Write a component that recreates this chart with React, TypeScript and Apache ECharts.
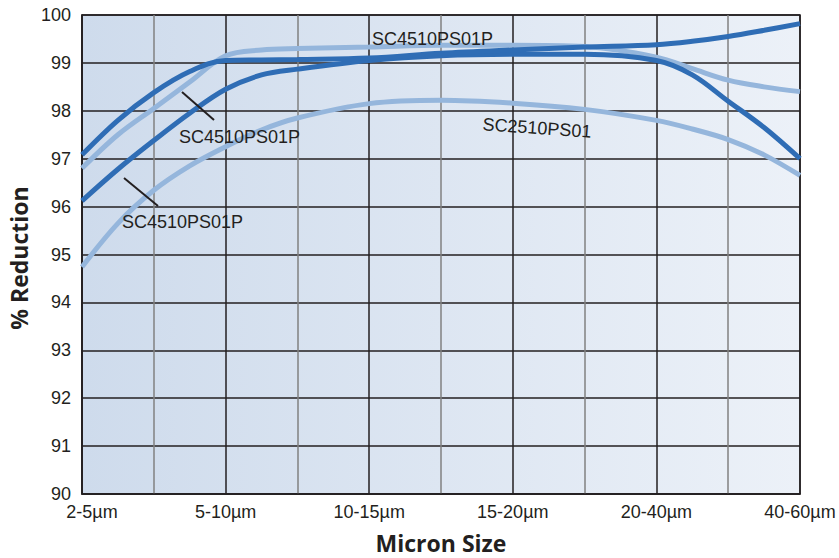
import React, { useEffect, useRef } from "react";
import * as echarts from "echarts";

const categories = ["2-5µm", "5-10µm", "10-15µm", "15-20µm", "20-40µm", "40-60µm"];
const xPositions = [0, 0.25, 0.5, 0.75, 1, 1.25, 1.5, 2, 2.5, 3, 3.5, 4, 4.25, 4.5, 4.75, 5];

const darkUpper = [97.08, 97.8, 98.38, 98.82, 99.05, 99.06, 99.07, 99.1, 99.2, 99.27, 99.33, 99.38, 99.45, 99.55, 99.68, 99.82];
const darkLower = [96.12, 96.78, 97.38, 97.95, 98.45, 98.75, 98.87, 99.05, 99.15, 99.18, 99.18, 99.05, 98.75, 98.2, 97.65, 97.0];
const lightUpper = [96.8, 97.5, 98.05, 98.6, 99.15, 99.27, 99.3, 99.33, 99.37, 99.37, 99.34, 99.12, 98.88, 98.64, 98.5, 98.4];
const lightLower = [94.74, 95.65, 96.34, 96.85, 97.25, 97.6, 97.85, 98.15, 98.22, 98.16, 98.03, 97.8, 97.62, 97.4, 97.08, 96.65];

const yTicks = { min: 90, max: 100, step: 1 };

const DARK = "#2f6db5";
const LIGHT = "#95b6dc";
const INK = "#231f20";

const pairs = (vals: number[]) => vals.map((v, i) => [xPositions[i], v]);

export default function App() {
  const ref = useRef<HTMLDivElement>(null);
  useEffect(() => {
    if (!ref.current) return;
    const chart = echarts.init(ref.current, null, { renderer: "svg" });
    const lineSeries = (name: string, vals: number[], color: string, z: number) => ({
      name,
      type: "line",
      data: pairs(vals),
      smooth: 0.35,
      showSymbol: false,
      symbol: "none",
      z,
      lineStyle: { color, width: 5, cap: "butt" },
    });
    const labelFont = { fontFamily: "Liberation Sans, Arial, sans-serif", fontSize: 18, fill: INK };
    chart.setOption({
      animation: false,
      grid: {
        left: 82,
        top: 15,
        right: 39,
        bottom: 64,
        show: true,
        borderColor: INK,
        borderWidth: 1.5,
        backgroundColor: new echarts.graphic.LinearGradient(0, 0, 1, 0, [
          { offset: 0, color: "#cedbec" },
          { offset: 1, color: "#ecf1f8" },
        ]),
      },
      xAxis: {
        type: "value",
        min: 0,
        max: 5,
        interval: 0.5,
        axisLine: { show: true, lineStyle: { color: INK, width: 1.5 } },
        axisTick: { show: false },
        axisLabel: {
          color: INK,
          fontFamily: "Liberation Sans, Arial, sans-serif",
          fontSize: 18,
          margin: 9,
          showMinLabel: true,
          showMaxLabel: true,
          formatter: (v: number) => {
            const i = Math.round(v * 2);
            if (i % 2 !== 0) return "";
            const name = categories[i / 2];
            return i === 0 ? "{first|" + name + "}" : name;
          },
          rich: { first: { padding: [0, 0, 0, 20], fontSize: 18, color: INK, fontFamily: "Liberation Sans, Arial, sans-serif" } },
        },
        splitLine: { show: true, lineStyle: { color: [INK, "#808080"], width: 1.5 } },
      },
      yAxis: {
        type: "value",
        min: yTicks.min,
        max: yTicks.max,
        interval: yTicks.step,
        axisLine: { show: true, lineStyle: { color: INK, width: 1.5 } },
        axisTick: { show: false },
        axisLabel: {
          color: INK,
          fontFamily: "Liberation Sans, Arial, sans-serif",
          fontSize: 18,
          margin: 11,
        },
        splitLine: { show: true, lineStyle: { color: INK, width: 1.5 } },
      },
      series: [
        lineSeries("SC2510PS01", lightLower, LIGHT, 2),
        lineSeries("SC4510PS01P light", lightUpper, LIGHT, 3),
        lineSeries("SC4510PS01P dark lower", darkLower, DARK, 4),
        lineSeries("SC4510PS01P dark upper", darkUpper, DARK, 5),
      ],
      graphic: [
        { type: "text", x: 372, y: 39, z: 10, style: { ...labelFont, text: "SC4510PS01P", verticalAlign: "middle" } },
        { type: "text", x: 179, y: 137, z: 10, style: { ...labelFont, text: "SC4510PS01P", verticalAlign: "middle" } },
        { type: "text", x: 122, y: 222, z: 10, style: { ...labelFont, text: "SC4510PS01P", verticalAlign: "middle" } },
        {
          type: "text",
          x: 537,
          y: 128,
          z: 10,
          rotation: -0.07,
          style: { ...labelFont, text: "SC2510PS01", align: "center", verticalAlign: "middle" },
        },
        { type: "line", z: 10, shape: { x1: 182, y1: 92, x2: 214, y2: 120 }, style: { stroke: INK, lineWidth: 2 } },
        { type: "line", z: 10, shape: { x1: 124, y1: 178, x2: 158, y2: 206 }, style: { stroke: INK, lineWidth: 2 } },
        {
          type: "text",
          x: 441,
          y: 543,
          style: { text: "Micron Size", fontFamily: "Open Sans", fontWeight: "bold", fontSize: 23, fill: INK, align: "center", verticalAlign: "middle" },
        },
        {
          type: "text",
          x: 19,
          y: 258,
          rotation: Math.PI / 2,
          style: { text: "% Reduction", fontFamily: "Open Sans", fontWeight: "bold", fontSize: 23, fill: INK, align: "center", verticalAlign: "middle" },
        },
      ],
    });
    return () => chart.dispose();
  }, []);
  return <div ref={ref} style={{ position: "absolute", left: 0, top: 0, width: 839, height: 558 }} />;
}
